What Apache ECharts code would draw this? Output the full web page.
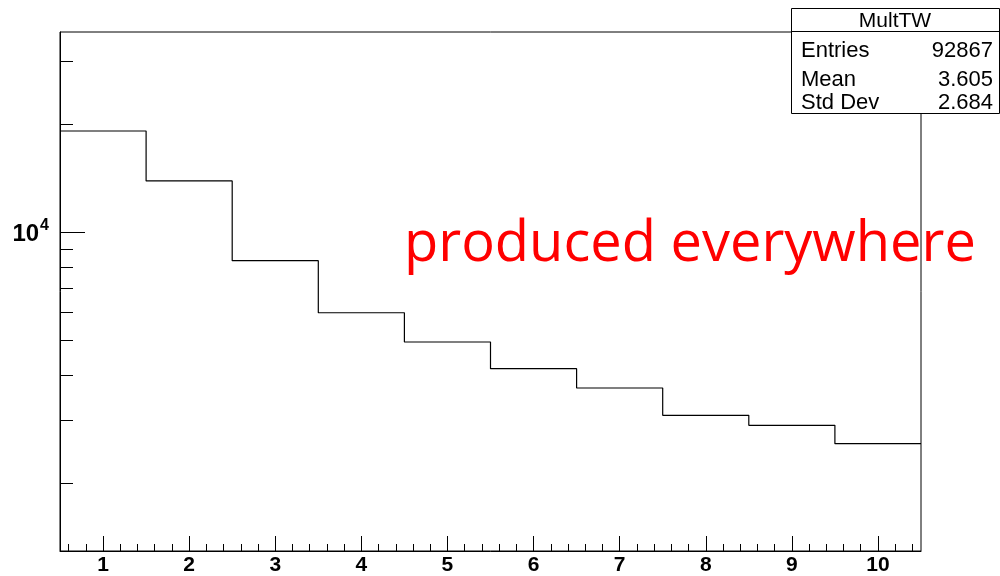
<!DOCTYPE html>
<html>
<head>
<meta charset="utf-8">
<script src="https://cdn.jsdelivr.net/npm/echarts@6/dist/echarts.min.js"></script>
<style>html,body{margin:0;padding:0;background:#fff}#c{width:1000px;height:576px}</style>
</head>
<body>
<div id="c"></div>
<script>
// ---- data ----
const binCenters = [1, 2, 3, 4, 5, 6, 7, 8, 9, 10];
const counts = [19180, 13910, 8330, 5963, 4940, 4162, 3675, 3083, 2892, 2570];
const xMajorTicks = [1, 2, 3, 4, 5, 6, 7, 8, 9, 10];
const yMajorTicks = [10000];
const yMinorTicks = [2000, 3000, 4000, 5000, 6000, 7000, 8000, 9000, 20000, 30000];
const statsTitle = 'MultTW';
const statsLabels = ['Entries', 'Mean', 'Std Dev'];
const statsValues = ['92867', '3.605', '2.684'];
const annotation = 'produced everywhere';

const xMin = 0.5, xMax = 10.5, yMin = 1289, yMax = 36240;

// minor x ticks every 0.2
const xMinorTicks = [];
for (let i = 3; i <= 52; i++) {
  const v = Math.round(i * 2) / 10;
  if (Math.abs(v - Math.round(v)) > 1e-9) xMinorTicks.push(v);
}

// histogram outline points (lower bin edges, step 'end')
const histPoints = binCenters.map((c, i) => [c - 0.5, counts[i]]);
histPoints.push([binCenters[binCenters.length - 1] + 0.5, counts[counts.length - 1]]);

const yTickData = yMajorTicks.map(v => [v, 25]).concat(yMinorTicks.map(v => [v, 13]));

const FONT = '"Liberation Sans", Arial, Helvetica, sans-serif';
const chart = echarts.init(document.getElementById('c'), null, {renderer: 'canvas'});

const statsGraphics = [
  {type: 'rect', z: 100, shape: {x: 791.5, y: 8.5, width: 208, height: 105},
   style: {fill: '#fff', stroke: '#000', lineWidth: 1}},
  {type: 'line', z: 101, shape: {x1: 791.5, y1: 31.5, x2: 999.5, y2: 31.5},
   style: {stroke: '#000', lineWidth: 1}},
  {type: 'text', z: 102, x: 895, y: 21.5,
   style: {text: statsTitle, font: '21px ' + FONT, fill: '#000', align: 'center', verticalAlign: 'middle'}}
];
const rowY = [51, 79.5, 103];
statsLabels.forEach((lab, i) => {
  statsGraphics.push({type: 'text', z: 102, x: 801, y: rowY[i],
    style: {text: lab, font: '22px ' + FONT, fill: '#000', align: 'left', verticalAlign: 'middle'}});
  statsGraphics.push({type: 'text', z: 102, x: 993, y: rowY[i],
    style: {text: statsValues[i], font: '22px ' + FONT, fill: '#000', align: 'right', verticalAlign: 'middle'}});
});

const option = {
  animation: false,
  backgroundColor: '#fff',
  grid: {left: 60, right: 79, top: 32, bottom: 25, show: true, borderColor: '#000', borderWidth: 1,
         backgroundColor: 'transparent', containLabel: false},
  xAxis: [
    {type: 'value', min: xMin, max: xMax, position: 'bottom',
     axisLine: {show: true, onZero: false, lineStyle: {color: '#000', width: 1}},
     splitLine: {show: false},
     axisTick: {show: true, inside: true, length: 15, customValues: xMajorTicks, lineStyle: {color: '#000', width: 1}},
     axisLabel: {show: true, customValues: xMajorTicks, margin: 4, color: '#000',
                 fontFamily: FONT, fontWeight: 'bold', fontSize: 21}},
    {type: 'value', min: xMin, max: xMax, position: 'bottom',
     axisLine: {show: false}, splitLine: {show: false},
     axisTick: {show: true, inside: true, length: 7, customValues: xMinorTicks, lineStyle: {color: '#000', width: 1}},
     axisLabel: {show: false}}
  ],
  yAxis: {
    type: 'log', logBase: 10, min: yMin, max: yMax,
    axisLine: {show: true, lineStyle: {color: '#000', width: 1}},
    splitLine: {show: false},
    axisTick: {show: false},
    axisLabel: {
      show: true, margin: 11, color: '#000',
      formatter: function (v) {
        return Math.abs(Math.log10(v) - 4) < 1e-6 ? '{b|10}{s|4}' : '';
      },
      rich: {
        b: {fontFamily: FONT, fontWeight: 'bold', fontSize: 24, color: '#000', verticalAlign: 'bottom'},
        s: {fontFamily: FONT, fontWeight: 'bold', fontSize: 16, color: '#000', verticalAlign: 'bottom', padding: [0, 0, 13, 1]}
      }
    }
  },
  series: [
    {type: 'line', data: histPoints, step: 'end', showSymbol: false, symbol: 'none',
     lineStyle: {color: '#000', width: 1.2}, itemStyle: {color: '#000'}, z: 5, silent: true},
    {type: 'custom', data: yTickData, silent: true, z: 6, clip: false,
     renderItem: function (params, api) {
       const p = api.coord([xMin, api.value(0)]);
       const len = api.value(1);
       return {type: 'line', shape: {x1: p[0], y1: Math.round(p[1]) + 0.5, x2: p[0] + len, y2: Math.round(p[1]) + 0.5},
               style: {stroke: '#000', lineWidth: 1}};
     },
     encode: {y: 0}}
  ],
  graphic: [
    {type: 'text', z: -1, x: 404, y: 245,
     style: {text: annotation, font: '56px "Open Sans"', fill: '#ff0000', align: 'left', verticalAlign: 'middle'}}
  ].concat(statsGraphics)
};
chart.setOption(option);
</script>
</body>
</html>
